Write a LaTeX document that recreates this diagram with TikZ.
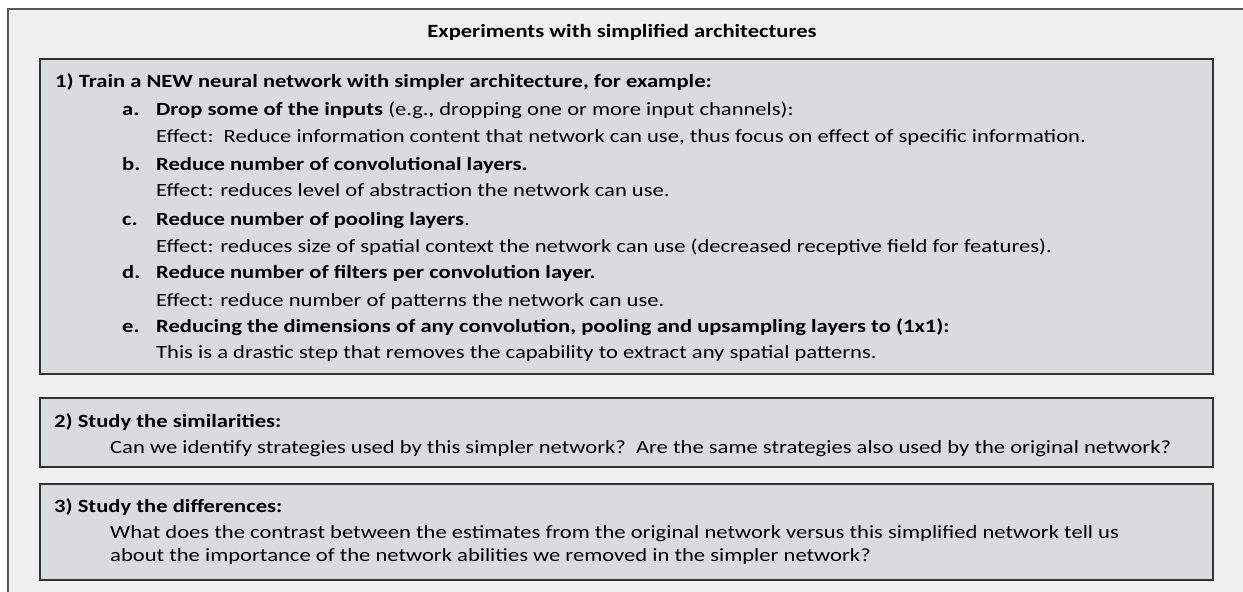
\documentclass[tikz,border=0pt]{standalone}
\usepackage{fontspec}
\setmainfont{Carlito}[FakeStretch=1.21]
\definecolor{outerbg}{RGB}{240,240,240}
\definecolor{outerline}{RGB}{89,89,89}
\definecolor{boxfill}{RGB}{218,219,221}
\definecolor{boxline}{RGB}{50,50,50}
\begin{document}
\begin{tikzpicture}[x=1pt,y=-1pt,
  txt/.style={anchor=base west,inner sep=0pt,font=\fontsize{18.67}{22}\selectfont},
  btxt/.style={txt,font=\fontsize{18.67}{22}\selectfont\bfseries},
  panel/.style={draw=boxline,line width=1.3pt,fill=boxfill}]
\useasboundingbox (0,0) rectangle (1243,592);
\fill[white] (0,0) rectangle (1243,592);
\fill[outerbg] (8,9) rectangle (1243,592);
\draw[outerline,line width=2pt] (8,592) -- (8,9) -- (1243,9);
\node[btxt,anchor=base] (title) at (622,37) {Experiments with simplified architectures};
% box 1
\draw[panel] (40,59) rectangle (1213,374);
\node[btxt] (t1) at (55,87) {1) Train a NEW neural network with simpler architecture, for example:};
\node[btxt] (la) at (122,115) {a.};
\node[txt] (a1) at (156,115) {\textbf{Drop some of the inputs} (e.g., dropping one or more input channels):};
\node[txt] (a2) at (156,142) {Effect:\ \ Reduce information content that network can use, thus focus on effect of specific information.};
\node[btxt] (lb) at (122,170) {b.};
\node[btxt] (b1) at (156,170) {Reduce number of convolutional layers.};
\node[txt] (b2) at (156,196) {Effect: reduces level of abstraction the network can use.};
\node[btxt] (lc) at (122,225) {c.};
\node[txt] (c1) at (156,225) {\textbf{Reduce number of pooling layers}.};
\node[txt] (c2) at (156,252) {Effect: reduces size of spatial context the network can use (decreased receptive field for features).};
\node[btxt] (ld) at (122,278) {d.};
\node[btxt] (d1) at (156,278) {Reduce number of filters per convolution layer.};
\node[txt] (d2) at (156,306) {Effect: reduce number of patterns the network can use.};
\node[btxt] (le) at (122,332) {e.};
\node[btxt] (e1) at (156,332) {Reducing the dimensions of any convolution, pooling and upsampling layers to (1x1):};
\node[txt] (e2) at (156,358) {This is a drastic step that removes the capability to extract any spatial patterns.};
% box 2
\draw[panel] (40,398) rectangle (1213,467);
\node[btxt] (t2) at (54,427) {2) Study the similarities:};
\node[txt] (s1) at (110,453) {Can we identify strategies used by this simpler network?\ \ Are the same strategies also used by the original network?};
% box 3
\draw[panel] (40,484) rectangle (1213,580);
\node[btxt] (t3) at (54,512) {3) Study the differences:};
\node[txt] (d31) at (110,538) {What does the contrast between the estimates from the original network versus this simplified network tell us};
\node[txt] (d32) at (110,561) {about the importance of the network abilities we removed in the simpler network?};
\end{tikzpicture}
\end{document}
